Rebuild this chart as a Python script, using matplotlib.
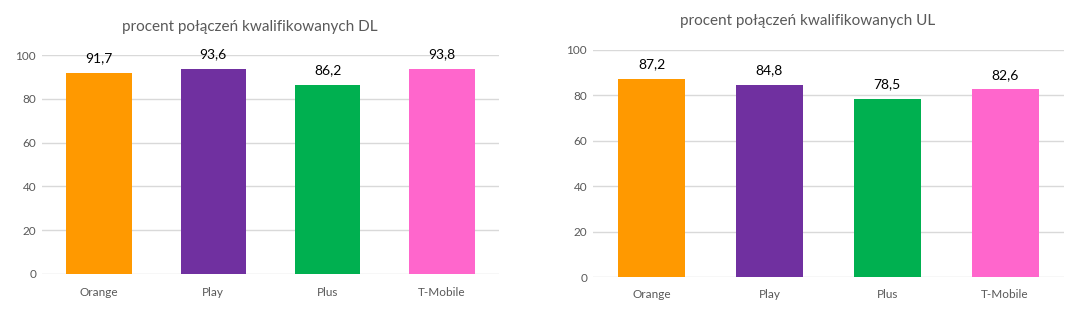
import matplotlib
matplotlib.use("Agg")
import matplotlib.pyplot as plt

operators = ["Orange", "Play", "Plus", "T-Mobile"]
dl_values = [91.7, 93.6, 86.2, 93.8]
ul_values = [87.2, 84.8, 78.5, 82.6]
colors = ["#FF9900", "#7030A0", "#00B050", "#FF66CC"]
titles = ["procent połączeń kwalifikowanych DL", "procent połączeń kwalifikowanych UL"]
yticks = [0, 20, 40, 60, 80, 100]

plt.rcParams['font.family'] = ['Lato', 'DejaVu Sans']

fig = plt.figure(figsize=(10.8, 3.13), dpi=100)

axes_rects = [
    [41.7 / 1080, 1 - 274 / 313, 457.6 / 1080, (274 - 55) / 313],
    [592.7 / 1080, 1 - 277 / 313, 471.3 / 1080, (277 - 50) / 313],
]
title_pos = [(250 / 1080, 1 - 27 / 313), (807.5 / 1080, 1 - 21.5 / 313)]
data = [dl_values, ul_values]

for rect, vals, title, tpos in zip(axes_rects, data, titles, title_pos):
    ax = fig.add_axes(rect)
    x = range(len(operators))
    ax.bar(x, vals, width=0.57, color=colors, zorder=3)
    ax.set_xlim(-0.5, len(operators) - 0.5)
    ax.set_ylim(0, 100)
    ax.set_yticks(yticks)
    ax.set_yticklabels([str(t) for t in yticks], color="#595959", fontsize=8.5)
    ax.set_xticks(list(x))
    ax.set_xticklabels(operators, color="#595959", fontsize=8.5)
    ax.tick_params(axis='both', length=0)
    ax.tick_params(axis='y', pad=4)
    ax.tick_params(axis='x', pad=9)
    ax.grid(axis='y', color="#D9D9D9", linewidth=1, zorder=0)
    for s in ax.spines.values():
        s.set_visible(False)
    for xi, v in zip(x, vals):
        ax.annotate(f"{v:.1f}".replace(".", ","), xy=(xi, v), xytext=(0, 10.5),
                    textcoords="offset points", ha="center", va="center",
                    fontsize=10, color="#000000")
    fig.text(tpos[0], tpos[1], title, ha="center", va="center",
             fontsize=11, color="#595959")

fig.savefig("out.png", dpi=100)
